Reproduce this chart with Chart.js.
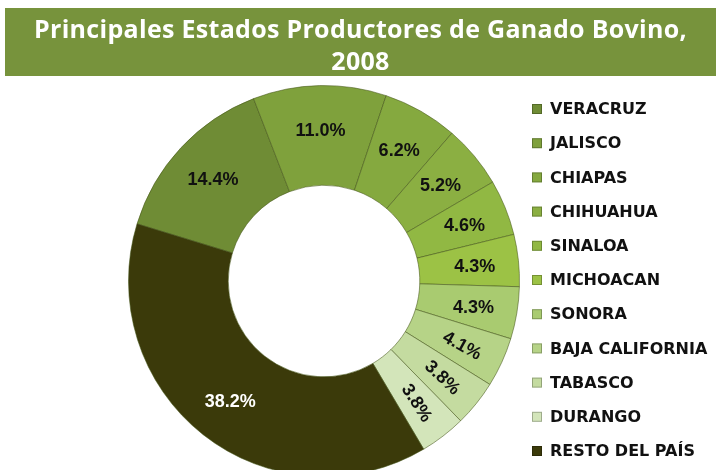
<!DOCTYPE html>
<html lang="es">
<head>
  <meta charset="UTF-8" />
  <title>Ganado Bovino 2008</title>
  <script src="https://cdn.jsdelivr.net/npm/chart.js"></script>
  <style>
    body {
      margin: 0;
      background: #ffffff;
      width: 716px;
      height: 470px;
      overflow: hidden;
      position: relative;
    }

    .title {
      position: absolute;
      left: 5px;
      top: 8px;
      width: 711px;
      height: 68px;
      padding-top: 4px;
      box-sizing: border-box;
      background-color: #77933c;
      color: #ffffff;
      font-family: 'Open Sans', sans-serif;
      font-weight: 700;
      font-size: 25px;
      letter-spacing: 0.3px;
      line-height: 32px;
      text-align: center;
      z-index: 2;
    }

    canvas {
      position: absolute;
      left: 0;
      top: 0;
    }
  </style>
</head>
<body>

  <div class="title">Principales Estados Productores de Ganado Bovino,<br>2008</div>
  <canvas id="bovinoChart" width="716" height="480"></canvas>

  <script>
    const estados = ['VERACRUZ', 'JALISCO', 'CHIAPAS', 'CHIHUAHUA', 'SINALOA', 'MICHOACAN',
                     'SONORA', 'BAJA CALIFORNIA', 'TABASCO', 'DURANGO', 'RESTO DEL PAÍS'];
    const porcentajes = [14.4, 11.0, 6.2, 5.2, 4.6, 4.3, 4.3, 4.1, 3.8, 3.8, 38.2];

    const colores = ['#6f8c35', '#7fa13c', '#85a93f', '#8baf42', '#91b843', '#9cc245',
                     '#a9cb70', '#b6d387', '#c4dba0', '#d3e5ba', '#3b3a0a'];
    // labels that sit rotated along the ring
    const girar = [false, false, false, false, false, false, false, true, true, true, false];

    // percent labels on the ring
    const etiquetas = {
      id: 'etiquetas',
      afterDatasetsDraw(chart) {
        const ctx = chart.ctx;
        const meta = chart.getDatasetMeta(0);
        meta.data.forEach((arc, i) => {
          const p = arc.getProps(['x', 'y', 'startAngle', 'endAngle', 'innerRadius', 'outerRadius'], true);
          const mid = (p.startAngle + p.endAngle) / 2;
          const r = p.innerRadius + (p.outerRadius - p.innerRadius) * 0.56;
          const x = p.x + Math.cos(mid) * r;
          const y = p.y + Math.sin(mid) * r + 2;
          ctx.save();
          ctx.translate(x, y);
          if (girar[i]) ctx.rotate(mid + 0.08);
          ctx.font = 'bold 18px "Liberation Sans"';
          ctx.fillStyle = i === porcentajes.length - 1 ? '#ffffff' : '#111111';
          ctx.textAlign = 'center';
          ctx.textBaseline = 'middle';
          ctx.fillText(porcentajes[i].toFixed(1) + '%', 0, 0);
          ctx.restore();
        });
      }
    };

    // legend on the right
    const leyenda = {
      id: 'leyenda',
      afterDraw(chart) {
        const ctx = chart.ctx;
        ctx.save();
        ctx.font = 'bold 16px "DejaVu Sans"';
        ctx.textBaseline = 'middle';
        estados.forEach((nombre, i) => {
          const y = 109 + i * 34.2;
          ctx.fillStyle = colores[i];
          ctx.fillRect(532, y - 5, 10, 10);
          ctx.strokeStyle = 'rgba(0,0,0,0.25)';
          ctx.lineWidth = 1;
          ctx.strokeRect(532.5, y - 4.5, 9, 9);
          ctx.fillStyle = '#111111';
          ctx.fillText(nombre, 550, y + 1);
        });
        ctx.restore();
      }
    };

    new Chart(document.getElementById('bovinoChart'), {
      type: 'doughnut',
      data: {
        labels: estados,
        datasets: [{
          data: porcentajes,
          backgroundColor: colores,
          borderColor: 'rgba(70,85,25,0.55)',
          borderWidth: 1
        }]
      },
      options: {
        responsive: false,
        animation: false,
        rotation: -73,
        cutout: '49%',
        layout: {
          padding: { left: 128, right: 196, top: 85, bottom: 3 }
        },
        plugins: {
          legend: { display: false },
          tooltip: { enabled: false }
        }
      },
      plugins: [etiquetas, leyenda]
    });
  </script>

</body>
</html>
